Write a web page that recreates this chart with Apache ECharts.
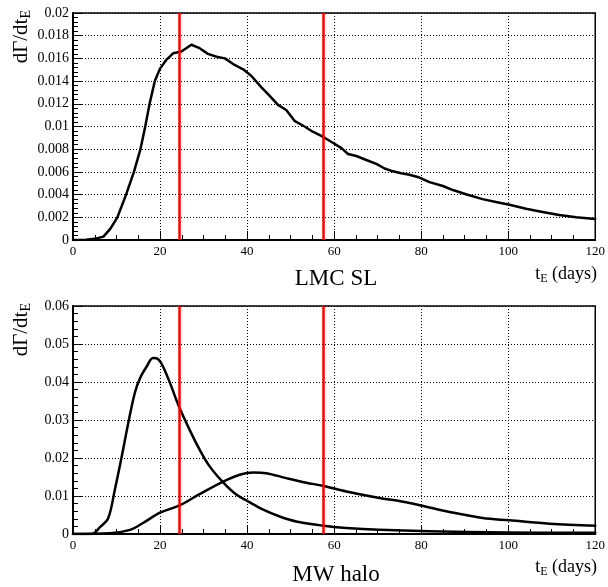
<!DOCTYPE html>
<html><head><meta charset="utf-8">
<script src="https://cdn.jsdelivr.net/npm/echarts@6/dist/echarts.min.js"></script>
<style>html,body{margin:0;padding:0;background:#fff}#c{width:608px;height:587px}</style>
</head><body><div id="c"></div>
<script>
// LMC self-lensing (top panel)
const lmcT = [0, 3, 5, 7, 8.6, 10.2, 12.2, 14.0, 15.5, 16.6, 17.6, 18.8, 20, 21.5, 23, 24.9, 27.2, 29.1, 31, 33, 34.9, 36.8, 39.1, 41, 43.3, 45.2, 47.1, 49, 50.9, 53.2, 55.1, 57.4, 59.7, 61.7, 63.2, 65.1, 67.4, 69.7, 71.6, 73.5, 75.4, 77.3, 79.6, 81.9, 85, 87.3, 90.3, 94.1, 98, 100.3, 104.1, 107.9, 111.7, 115.6, 120];
const lmcV = [0, 0.00003, 0.0001, 0.0003, 0.0010, 0.0020, 0.0040, 0.0060, 0.0080, 0.0100, 0.0120, 0.0140, 0.0151, 0.0159, 0.01645, 0.0166, 0.0172, 0.0169, 0.0164, 0.01615, 0.0160, 0.0155, 0.01504, 0.01445, 0.01345, 0.0127, 0.0119, 0.01145, 0.0105, 0.0100, 0.00954, 0.0091, 0.00857, 0.0081, 0.00758, 0.0074, 0.00705, 0.0067, 0.0063, 0.00605, 0.00588, 0.00575, 0.0055, 0.0051, 0.00476, 0.0044, 0.00403, 0.0036, 0.00329, 0.0031, 0.00276, 0.00247, 0.0022, 0.0020, 0.00185];
// MW halo (bottom panel), narrow curve
const mwAT = [0, 4.3, 6.2, 8.1, 9.6, 11.2, 12.7, 14.2, 15.4, 16.9, 18.4, 19.6, 20.7, 22.3, 24.4, 26.8, 29.1, 31.4, 34.5, 37.6, 40.2, 43.7, 47.5, 51.3, 57.4, 62.8, 70.4, 81.9, 100, 120];
const mwAV = [0, 0, 0.0018, 0.0042, 0.0116, 0.0204, 0.0292, 0.0371, 0.0410, 0.0440, 0.0463, 0.0460, 0.0440, 0.0397, 0.0334, 0.0274, 0.0222, 0.0178, 0.0136, 0.0103, 0.0086, 0.0064, 0.0046, 0.0033, 0.0022, 0.0016, 0.0011, 0.0007, 0.0004, 0.0003];
// MW halo, broad curve
const mwBT = [0, 8.5, 13.1, 16.1, 20, 24.6, 29.1, 34.5, 38.3, 41.4, 44.4, 49, 53.6, 57.4, 62.8, 70.4, 75, 80, 86.5, 94.1, 100.3, 109.5, 120];
const mwBV = [0, 0.0002, 0.0011, 0.0029, 0.0056, 0.0076, 0.0105, 0.0138, 0.0156, 0.0162, 0.0160, 0.0147, 0.0135, 0.0127, 0.0112, 0.0095, 0.0087, 0.0075, 0.0058, 0.0042, 0.0036, 0.0027, 0.0022];
// vertical red markers (days)
const redLines = [24.3, 57.4];
const panelTitles = ['LMC SL', 'MW halo'];

const zip = (a, b) => a.map((x, i) => [x, b[i]]);
const FONT = 'Liberation Serif';

function xAxis(gi) {
  return {
    type: 'value', gridIndex: gi, min: 0, max: 120, interval: 20,
    axisLine: { show: true, lineStyle: { color: '#000', width: 2 } },
    axisTick: { show: true, inside: true, length: 9, lineStyle: { color: '#000', width: 1 } },
    minorTick: { show: true, splitNumber: 4, length: 5, lineStyle: { color: '#000', width: 1 } },
    axisLabel: { color: '#000', fontFamily: FONT, fontSize: 13, margin: 5 },
    splitLine: { show: true, lineStyle: { color: '#000', type: [1, 2], width: 1 } }
  };
}
function yAxis(gi, max, interval) {
  return {
    type: 'value', gridIndex: gi, min: 0, max: max, interval: interval,
    axisLine: { show: true, lineStyle: { color: '#000', width: 2 } },
    axisTick: { show: true, inside: true, length: 9, lineStyle: { color: '#000', width: 1 } },
    minorTick: { show: true, splitNumber: 5, length: 5, lineStyle: { color: '#000', width: 1 } },
    axisLabel: { color: '#000', fontFamily: FONT, fontSize: 14, margin: 4 },
    splitLine: { show: true, lineStyle: { color: '#000', type: [1, 2], width: 1 } }
  };
}
const markRed = {
  symbol: ['none', 'none'], silent: true, animation: false,
  label: { show: false },
  lineStyle: { color: '#ff0000', width: 2.5, type: 'solid' },
  data: redLines.map(v => ({ xAxis: v }))
};
function line(data, xi, smooth, mark) {
  const s = {
    type: 'line', xAxisIndex: xi, yAxisIndex: xi, data: data,
    showSymbol: false, smooth: smooth,
    lineStyle: { color: '#000', width: 2.5, join: 'round', cap: 'round' }, animation: false, z: 3
  };
  if (mark) s.markLine = markRed;
  return s;
}
function yLabel(yTop) {
  return {
    type: 'text', x: 21, y: yTop, rotation: Math.PI / 2,
    style: {
      text: '{a|dΓ/dt}{b|E}', align: 'right', verticalAlign: 'middle',
      rich: {
        a: { fontFamily: FONT, fontSize: 21, fill: '#000' },
        b: { fontFamily: FONT, fontSize: 14, fill: '#000', padding: [10, 0, 0, 0] }
      }
    }
  };
}
function xTitle(yBase) {
  return {
    type: 'text', x: 597, y: yBase,
    style: {
      text: '{a|t}{b|E}{a| (days)}', align: 'right', verticalAlign: 'bottom',
      rich: {
        a: { fontFamily: FONT, fontSize: 18, fill: '#000' },
        b: { fontFamily: FONT, fontSize: 12, fill: '#000', padding: [9, 0, 0, 0] }
      }
    }
  };
}
function pTitle(txt, yc) {
  return {
    type: 'text', x: 336, y: yc,
    style: { text: txt, align: 'center', verticalAlign: 'middle', fontFamily: FONT, fontSize: 23, fill: '#000' }
  };
}

const chart = echarts.init(document.getElementById('c'), null, { renderer: 'canvas' });
chart.setOption({
  backgroundColor: '#fff',
  animation: false,
  grid: [
    { left: 73, top: 13, width: 523, height: 227, show: true, borderColor: '#000', borderWidth: 1.5, backgroundColor: 'transparent' },
    { left: 73, top: 306, width: 523, height: 228, show: true, borderColor: '#000', borderWidth: 1.5, backgroundColor: 'transparent' }
  ],
  xAxis: [xAxis(0), xAxis(1)],
  yAxis: [yAxis(0, 0.02, 0.002), yAxis(1, 0.06, 0.01)],
  series: [
    line(zip(lmcT, lmcV), 0, false, true),
    line(zip(mwAT, mwAV), 1, 0.35, true),
    line(zip(mwBT, mwBV), 1, 0.35, false)
  ],
  graphic: [
    yLabel(10), yLabel(303),
    xTitle(285), xTitle(578),
    pTitle(panelTitles[0], 279), pTitle(panelTitles[1], 575)
  ]
});
</script></body></html>
